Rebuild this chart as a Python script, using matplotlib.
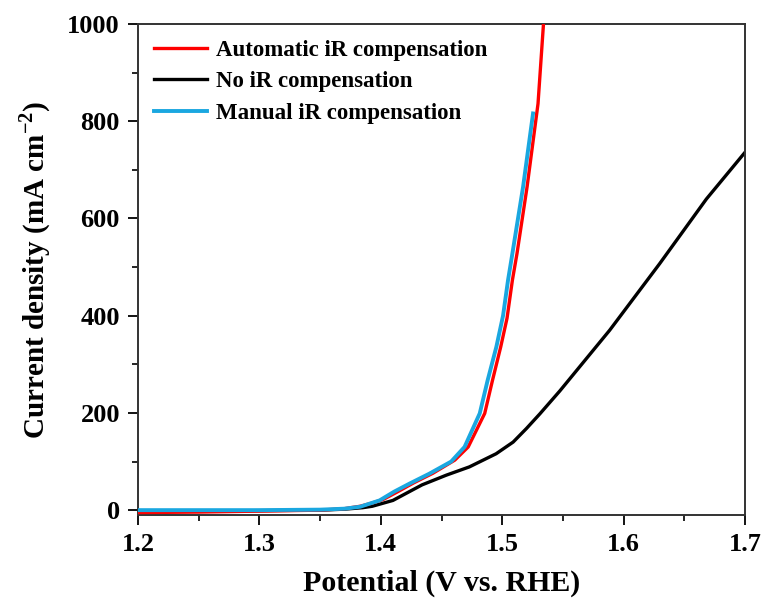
import numpy as np
import matplotlib
matplotlib.use("Agg")
import matplotlib.pyplot as plt
from matplotlib.ticker import MultipleLocator

plt.rcParams['font.family'] = ['Liberation Serif', 'DejaVu Serif']
plt.rcParams['font.weight'] = 'bold'
plt.rcParams['mathtext.fontset'] = 'custom'
plt.rcParams['mathtext.rm'] = 'Liberation Serif:bold'
plt.rcParams['mathtext.bf'] = 'Liberation Serif:bold'

# Automatic iR compensation
auto_v = [1.20, 1.25, 1.30, 1.35, 1.37, 1.383, 1.392, 1.402, 1.414, 1.427, 1.443, 1.461,
          1.472, 1.4856, 1.492, 1.4988, 1.504, 1.5084, 1.5122, 1.5205, 1.5295, 1.534]
auto_j = [-5, -4, -2, 0, 3, 8, 14, 22, 38, 56, 76, 103,
          130, 199, 267, 336, 395, 473, 528, 665, 836, 1000]

# No iR compensation
none_v = [1.20, 1.25, 1.30, 1.35, 1.37, 1.385, 1.393, 1.41, 1.434, 1.454, 1.473, 1.495,
          1.509, 1.52, 1.531, 1.5474, 1.5885, 1.6297, 1.6682, 1.70]
none_j = [-2, -2, -1, 0, 2, 5, 8, 20, 52, 72, 89, 116,
          140, 168, 198, 245, 370, 507, 640, 736]

# Manual iR compensation
man_v = [1.20, 1.25, 1.30, 1.35, 1.37, 1.383, 1.399, 1.411, 1.424, 1.440, 1.458, 1.469,
         1.4815, 1.488, 1.4952, 1.5007, 1.5048, 1.5084, 1.5172, 1.5254]
man_j = [0, 0, 0, 1, 3, 7, 20, 38, 55, 75, 100, 130,
         199, 267, 336, 400, 473, 528, 665, 816]

fig = plt.figure(figsize=(7.68, 6.06), dpi=100)
ax = fig.add_axes([138 / 768, 1 - 515 / 606, (745 - 138) / 768, (515 - 24) / 606])

ax.plot(auto_v, auto_j, color='#ff0000', lw=2.4, label='Automatic iR compensation', zorder=3)
ax.plot(none_v, none_j, color='#000000', lw=2.4, label='No iR compensation', zorder=2)
ax.plot(man_v, man_j, color='#1aa7e0', lw=2.8, label='Manual iR compensation', zorder=4)

ax.set_xlim(1.2, 1.7)
ax.set_ylim(-10, 1000)
ax.xaxis.set_major_locator(MultipleLocator(0.1))
ax.xaxis.set_minor_locator(MultipleLocator(0.05))
ax.yaxis.set_major_locator(MultipleLocator(200))
ax.yaxis.set_minor_locator(MultipleLocator(100))
ax.tick_params(which='major', direction='out', length=7, width=1.3, labelsize=19, pad=6)
ax.tick_params(which='minor', direction='out', length=4, width=1.2)
ax.tick_params(top=False, right=False)
for lbl in ax.get_xticklabels() + ax.get_yticklabels():
    lbl.set_fontweight('bold')
for s in ax.spines.values():
    s.set_linewidth(1.4)
    s.set_color('#333333')

ax.set_xlabel('Potential (V vs. RHE)', fontsize=21.5, fontweight='bold', labelpad=10)
ax.set_ylabel('Current density (mA cm$^{-2}$)', fontsize=21, fontweight='bold', labelpad=10)

leg = ax.legend(loc='upper left', frameon=False, fontsize=16.5, handlelength=2.3,
                handletextpad=0.4, labelspacing=0.45, borderaxespad=0.3)
for t in leg.get_texts():
    t.set_fontweight('bold')

fig.savefig('out.png', dpi=100)
